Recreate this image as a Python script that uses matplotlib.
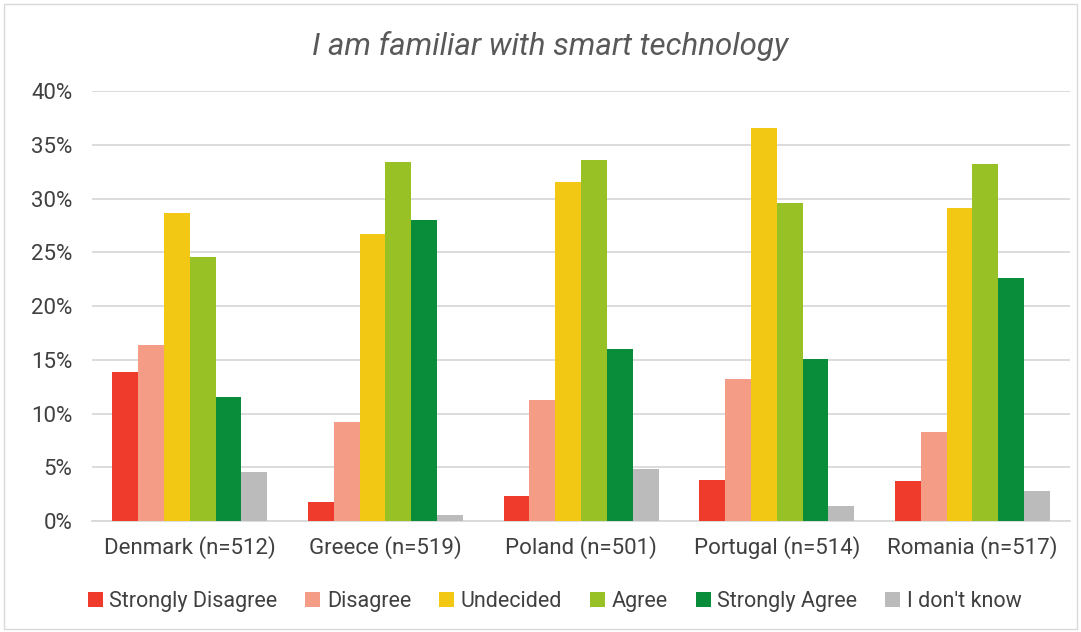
import matplotlib.pyplot as plt
import numpy as np
from matplotlib import font_manager
from matplotlib.patches import Rectangle

# Survey answers per country (percent)
countries = ['Denmark (n=512)', 'Greece (n=519)', 'Poland (n=501)',
             'Portugal (n=514)', 'Romania (n=517)']
answers = ['Strongly Disagree', 'Disagree', 'Undecided', 'Agree',
           'Strongly Agree', "I don't know"]

strongly_disagree = [13.9, 1.8, 2.3, 3.8, 3.7]
disagree = [16.4, 9.2, 11.3, 13.2, 8.3]
undecided = [28.7, 26.7, 31.6, 36.6, 29.1]
agree = [24.6, 33.4, 33.6, 29.6, 33.2]
strongly_agree = [11.5, 28.0, 16.0, 15.1, 22.6]
dont_know = [4.6, 0.6, 4.8, 1.4, 2.8]

series = [strongly_disagree, disagree, undecided, agree, strongly_agree, dont_know]
colors = ['#EF3B2C', '#F49C86', '#F2C814', '#97C125', '#098D3A', '#BBBBBB']

installed = {f.name for f in font_manager.fontManager.ttflist}
family = 'Liberation Sans Narrow' if 'Liberation Sans Narrow' in installed else 'Roboto'
plt.rcParams['font.family'] = [family, 'DejaVu Sans']

fig = plt.figure(figsize=(10.81, 6.32), dpi=100)
ax = fig.add_axes([0.085, 0.1756, 0.905, 0.68])

x = np.arange(len(countries))
width = 0.132
for i, (vals, c) in enumerate(zip(series, colors)):
    ax.bar(x + (i - 2.5) * width, np.array(vals) / 100, width, color=c,
           label=answers[i], zorder=3)

ax.set_ylim(0, 0.40)
ax.set_xlim(-0.5, len(countries) - 0.5)
ticks = np.arange(0, 0.41, 0.05)
ax.set_yticks(ticks)
ax.set_yticklabels([f'{int(round(t * 100))}%' for t in ticks])
ax.set_xticks(x)
ax.set_xticklabels(countries)
ax.tick_params(axis='both', length=0, labelsize=16, colors='#404040')
ax.tick_params(axis='y', pad=14)
ax.tick_params(axis='x', pad=11)
ax.yaxis.grid(True, color='#D9D9D9', linewidth=1.3, zorder=0)
for s in ['top', 'right', 'left']:
    ax.spines[s].set_visible(False)
ax.spines['bottom'].set_color('#D9D9D9')
ax.spines['bottom'].set_linewidth(1.3)

fig.text(0.509, 0.928, 'I am familiar with smart technology', ha='center',
         va='center', fontsize=22.5, style='italic', color='#595959')

fig.legend(loc='center', bbox_to_anchor=(0.513, 0.048), ncol=6, frameon=False,
           fontsize=15.5, handlelength=0.7, handleheight=0.7, handletextpad=0.3,
           columnspacing=1.3, labelcolor='#404040')

# chart border
fig.patches.append(Rectangle((0.004, 0.004), 0.992, 0.99, transform=fig.transFigure,
                             fill=False, edgecolor='#D9D9D9', linewidth=1))

fig.savefig('out.png', dpi=100)
